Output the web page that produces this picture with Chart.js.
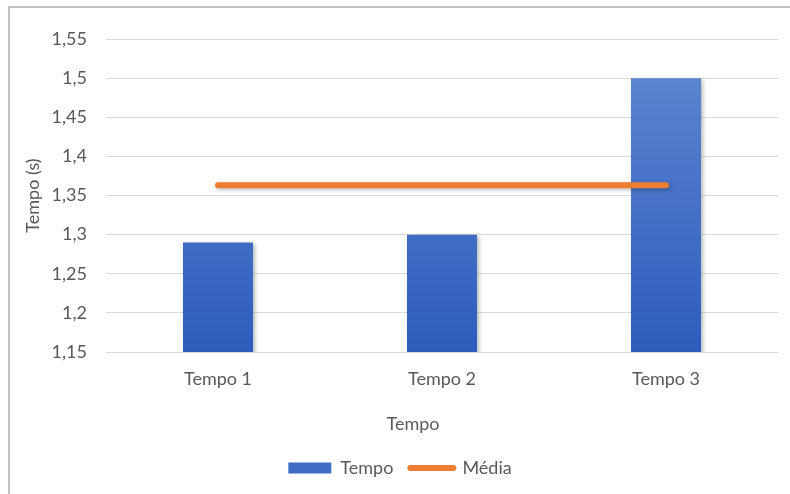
<!DOCTYPE html>
<html lang="pt">
<head>
<meta charset="utf-8">
<title>Tempo</title>
<script src="https://cdn.jsdelivr.net/npm/chart.js@4.4.1/dist/chart.umd.min.js"></script>
<style>
  html, body { margin: 0; padding: 0; background: #fff; }
  #wrap { position: relative; width: 790px; height: 494px; overflow: hidden; }
  /* outer chart frame, only top and left edges are in view */
  #frame { position: absolute; left: 8px; top: 6px; width: 900px; height: 600px;
           border-top: 2px solid #c2c2c2; border-left: 2px solid #c2c2c2; }
  #chart { position: absolute; left: 0; top: 0; }
</style>
</head>
<body>
<div id="wrap">
  <div id="frame"></div>
  <canvas id="chart" width="790" height="494"></canvas>
</div>
<script>
// data
const categories = ['Tempo 1', 'Tempo 2', 'Tempo 3'];
const tempoValues = [1.29, 1.3, 1.5];
const mediaValues = [1.363, 1.363, 1.363];
const yTickValues = [1.15, 1.2, 1.25, 1.3, 1.35, 1.4, 1.45, 1.5, 1.55];
const yTickLabels = ['1,15', '1,2', '1,25', '1,3', '1,35', '1,4', '1,45', '1,5', '1,55'];
const xTitle = 'Tempo';

const TEXT = '#595959';
const ORANGE = '#ed7d31';

Chart.defaults.font.family = 'Lato, "Open Sans", sans-serif';
Chart.defaults.font.size = 18;
Chart.defaults.color = TEXT;

// vertical blue gradient across the plot area
function barFill(context) {
    const { chart } = context;
    const area = chart.chartArea;
    if (!area) return '#4472c4';
    const g = chart.ctx.createLinearGradient(0, area.top, 0, area.bottom);
    g.addColorStop(0, '#6088d2');
    g.addColorStop(1, '#2d5cbb');
    return g;
}

// soft drop shadow under bars and the average line
const markShadow = {
    id: 'markShadow',
    beforeDatasetDraw(chart) {
        const ctx = chart.ctx;
        ctx.save();
        ctx.shadowColor = 'rgba(0, 0, 0, 0.28)';
        ctx.shadowBlur = 4;
        ctx.shadowOffsetX = 1.5;
        ctx.shadowOffsetY = 1.5;
    },
    afterDatasetDraw(chart) {
        chart.ctx.restore();
    },
};

// x axis title sits centred on the whole frame rather than the plot area,
// and the legend row is nudged the same way
const frameCentre = {
    id: 'frameCentre',
    afterUpdate(chart) {
        chart.legend.left += 6;
        chart.legend.right += 6;
    },
    afterDraw(chart) {
        const ctx = chart.ctx;
        const x = chart.scales.x;
        ctx.save();
        ctx.font = Chart.helpers.toFont({ size: 18 }).string;
        ctx.fillStyle = TEXT;
        ctx.textAlign = 'center';
        ctx.textBaseline = 'middle';
        ctx.fillText(xTitle, 413, x.bottom - 18);
        ctx.restore();
    },
};

const ctx = document.getElementById('chart').getContext('2d');

new Chart(ctx, {
    type: 'bar',
    data: {
        labels: categories,
        datasets: [
            {
                type: 'line',
                label: 'Média',
                data: mediaValues,
                borderColor: ORANGE,
                backgroundColor: ORANGE,
                borderWidth: 6,
                borderCapStyle: 'round',
                pointRadius: 0,
                order: 0,
            },
            {
                type: 'bar',
                label: 'Tempo',
                data: tempoValues,
                backgroundColor: barFill,
                borderWidth: 0,
                categoryPercentage: 1,
                barPercentage: 0.3125,
                order: 1,
            },
        ],
    },
    options: {
        responsive: false,
        devicePixelRatio: 1,
        animation: false,
        layout: {
            padding: { left: 10, right: 12, top: 39, bottom: 7 },
        },
        scales: {
            x: {
                grid: { display: false, drawTicks: false },
                border: { display: false },
                ticks: { padding: 16 },
                title: { display: false },
                afterFit(scale) { scale.height = 90; },
            },
            y: {
                min: 1.15,
                max: 1.55,
                grid: { color: '#d9d9d9', lineWidth: 1, drawTicks: false },
                border: { display: false },
                ticks: {
                    padding: 19,
                    callback: (value, index) => yTickLabels[index],
                },
                afterBuildTicks(scale) {
                    scale.ticks = yTickValues.map(v => ({ value: v }));
                },
                title: {
                    display: true,
                    text: 'Tempo (s)',
                    padding: { top: 12, bottom: 0 },
                },
                afterFit(scale) { scale.width = 96; },
            },
        },
        plugins: {
            legend: {
                position: 'bottom',
                labels: {
                    usePointStyle: true,
                    pointStyleWidth: 43,
                    boxHeight: 11,
                    padding: 17,
                    generateLabels() {
                        return [
                            { text: 'Tempo', pointStyle: 'rect', fillStyle: '#3f6dc6',
                              strokeStyle: '#3f6dc6', lineWidth: 0, fontColor: TEXT, datasetIndex: 1 },
                            { text: 'Média', pointStyle: 'line', fillStyle: ORANGE,
                              strokeStyle: ORANGE, lineWidth: 6, lineCap: 'round',
                              fontColor: TEXT, datasetIndex: 0 },
                        ];
                    },
                },
            },
            tooltip: { enabled: false },
        },
    },
    plugins: [markShadow, frameCentre],
});
</script>
</body>
</html>
